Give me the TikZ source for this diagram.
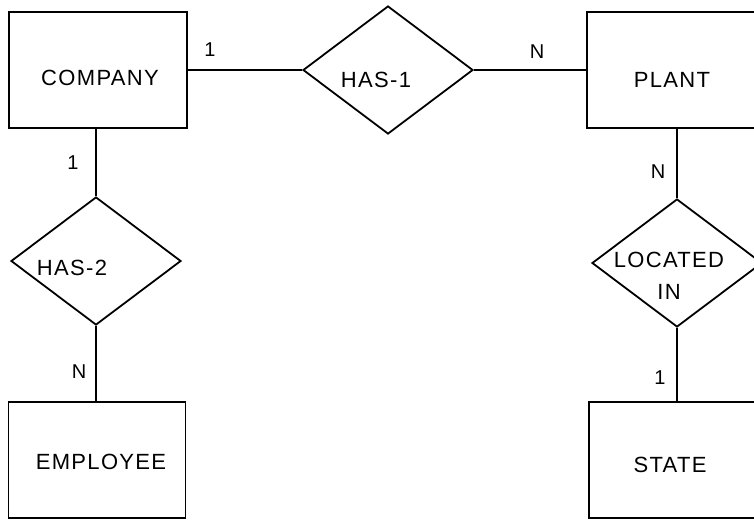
\documentclass[tikz,border=0pt]{standalone}
\usepackage{fontspec}
\setmainfont{Liberation Sans}[LetterSpace=6]
\usetikzlibrary{shapes.geometric}
\begin{document}
\begin{tikzpicture}[x=1pt,y=-1pt,
  entity/.style={draw,line width=1.8pt,rectangle,minimum width=#1,minimum height=116pt,inner sep=0pt},
  relation/.style={draw,line width=1.8pt,diamond,minimum width=170pt,minimum height=128pt,inner sep=0pt},
  txt/.style={font=\fontsize{22}{26}\selectfont,inner sep=0pt},
  card/.style={font=\fontsize{20}{24}\selectfont,inner sep=0pt},
  conn/.style={line width=1.8pt}]
\useasboundingbox (0,0) rectangle (754,520);
\clip (0,0) rectangle (754,520);
% entities
\node[entity=178pt] (company) at (98,70) {};
\node[entity=180pt] (plant) at (677,70) {};
\node[entity=177pt] (employee) at (97,460) {};
\node[entity=180pt] (state) at (679,460) {};
% relationships
\node[relation] (has1) at (388,70) {};
\node[relation] (has2) at (96,261) {};
\node[relation] (locin) at (677,263) {};
% texts
\node[txt] (tcompany) at (100,78) {COMPANY};
\node[txt] (tplant) at (672,80) {PLANT};
\node[txt] (temployee) at (101,462) {EMPLOYEE};
\node[txt] (tstate) at (670,465) {STATE};
\node[txt] (thas1) at (376,80) {HAS-1};
\node[txt] (thas2) at (72,268) {HAS-2};
\node[txt,align=center] (tlocin) at (669,276) {LOCATED\\[6pt]IN};
% connectors
\draw[conn] (company.east) -- (has1.west);
\draw[conn] (has1.east) -- (has1.east -| plant.west);
\draw[conn] (company.south -| has2.north) -- (has2.north);
\draw[conn] (has2.south) -- (has2.south |- employee.north);
\draw[conn] (plant.south -| locin.north) -- (locin.north);
\draw[conn] (locin.south) -- (locin.south |- state.north);
% cardinalities
\node[card] (c1) at (210,50) {1};
\node[card] (c2) at (537,52) {N};
\node[card] (c3) at (73,163) {1};
\node[card] (c4) at (658,172) {N};
\node[card] (c5) at (79,372) {N};
\node[card] (c6) at (660,378) {1};
\end{tikzpicture}
\end{document}
